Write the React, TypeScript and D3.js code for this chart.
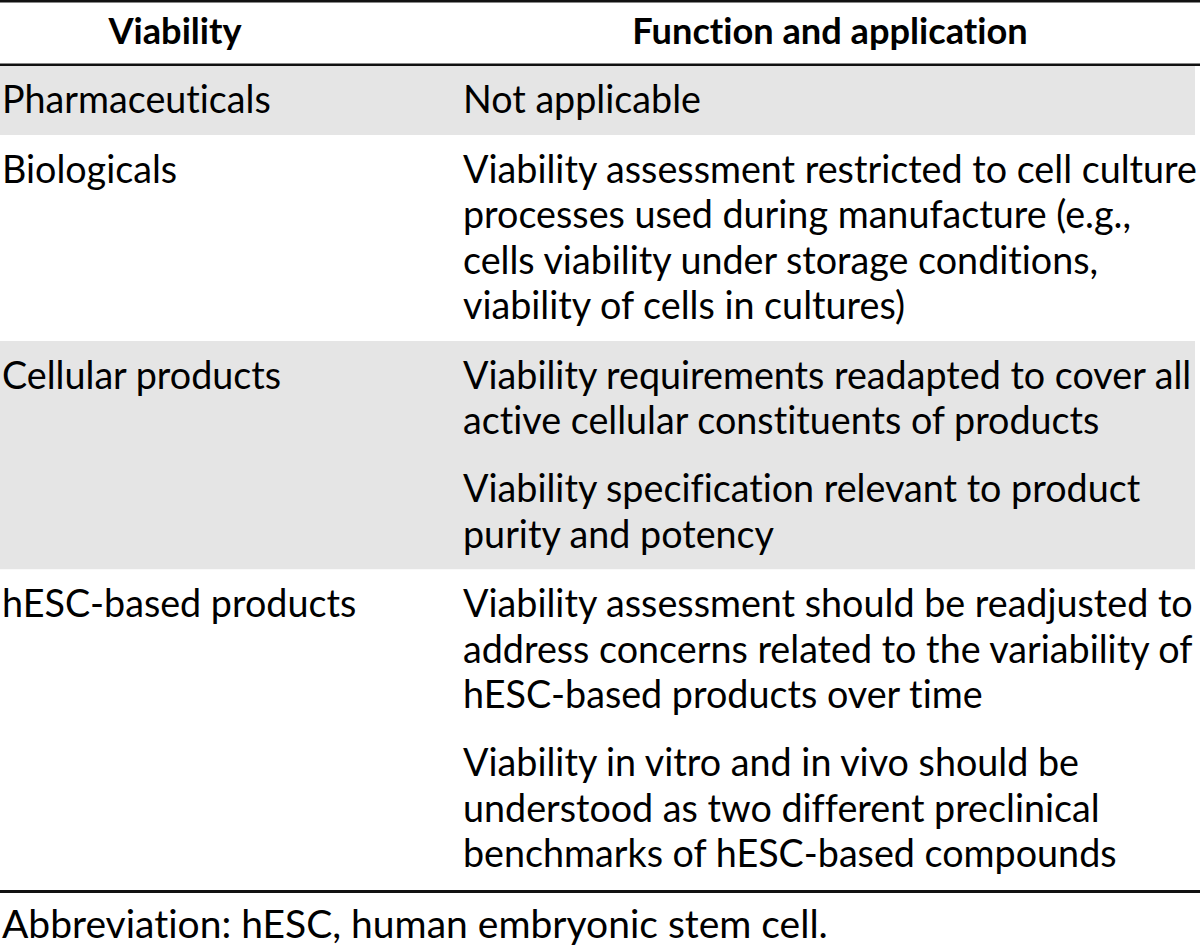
import React from "react";
import * as d3 from "d3";

const headers = ["Viability", "Function and application"];
const categories = ["Pharmaceuticals", "Biologicals", "Cellular products", "hESC-based products"];
const descriptions: string[][][] = [
  [["Not applicable"]],
  [[
    "Viability assessment restricted to cell culture",
    "processes used during manufacture (e.g.,",
    "cells viability under storage conditions,",
    "viability of cells in cultures)",
  ]],
  [
    ["Viability requirements readapted to cover all", "active cellular constituents of products"],
    ["Viability specification relevant to product", "purity and potency"],
  ],
  [
    [
      "Viability assessment should be readjusted to",
      "address concerns related to the variability of",
      "hESC-based products over time",
    ],
    [
      "Viability in vitro and in vivo should be",
      "understood as two different preclinical",
      "benchmarks of hESC-based compounds",
    ],
  ],
];
const shaded = [true, false, true, false];
const footnote = "Abbreviation: hESC, human embryonic stem cell.";

const W = 1200;
const H = 947;
const FONT = "Lato, 'Open Sans', sans-serif";
const FS = 37.7;
const HFS = 36.2;
const FOOT_FS = 39;
const LINE = 45.5;
const PARA_GAP = 22.5;
const TOP_PAD = 47.5;
const BOT_PAD = 22;
const HEADER_BOTTOM = 65.5;
const COL1_X = 2;
const COL2_X = 463;

export default function App() {
  const rows: { top: number; bottom: number; baselines: { y: number; text: string }[] }[] = [];
  let y = HEADER_BOTTOM;
  descriptions.forEach((paras) => {
    const top = y;
    const baselines: { y: number; text: string }[] = [];
    let b = top + TOP_PAD;
    paras.forEach((p, pi) => {
      if (pi > 0) b += PARA_GAP;
      p.forEach((line, li) => {
        if (li > 0 || pi > 0) b += LINE;
        baselines.push({ y: b, text: line });
      });
    });
    const bottom = b + BOT_PAD;
    rows.push({ top, bottom, baselines });
    y = bottom;
  });
  const tableBottom = y + 2.5;

  const fill = d3.scaleOrdinal<string, string>().domain(["true", "false"]).range(["#e5e5e5", "#ffffff"]);
  const colCenter = d3.scaleOrdinal<string, number>().domain(headers).range([175, 830]);
  const txtStyle = { fontVariantLigatures: "none" as const };

  return (
    <svg
      width={W}
      height={H}
      style={{ position: "absolute", left: 0, top: 0, background: "#fff" }}
      fontFamily={FONT}
    >
      <rect x={0} y={0} width={W} height={H} fill="#fff" />
      {rows.map((r, i) => (
        <rect key={"bg" + i} x={0} y={r.top} width={1195} height={r.bottom - r.top} fill={fill(String(shaded[i]))} />
      ))}
      <line x1={0} x2={W} y1={1.3} y2={1.3} stroke="#111" strokeWidth={2.6} />
      <line x1={0} x2={W} y1={HEADER_BOTTOM - 0.8} y2={HEADER_BOTTOM - 0.8} stroke="#111" strokeWidth={2.4} />
      <line x1={0} x2={W} y1={tableBottom} y2={tableBottom} stroke="#111" strokeWidth={3} />
      {headers.map((h) => (
        <text key={h} x={colCenter(h)} y={44} textAnchor="middle" fontWeight={700} fontSize={HFS} fill="#000" style={txtStyle}>
          {h}
        </text>
      ))}
      {rows.map((r, i) => (
        <g key={"row" + i}>
          <text x={COL1_X} y={r.top + TOP_PAD} fontSize={FS} fill="#000" style={txtStyle}>
            {categories[i]}
          </text>
          {r.baselines.map((bl, j) => (
            <text key={j} x={COL2_X} y={bl.y} fontSize={FS} fill="#000" style={txtStyle}>
              {bl.text}
            </text>
          ))}
        </g>
      ))}
      <text x={COL1_X} y={938} fontSize={FOOT_FS} fill="#000" style={txtStyle}>
        {footnote}
      </text>
    </svg>
  );
}
